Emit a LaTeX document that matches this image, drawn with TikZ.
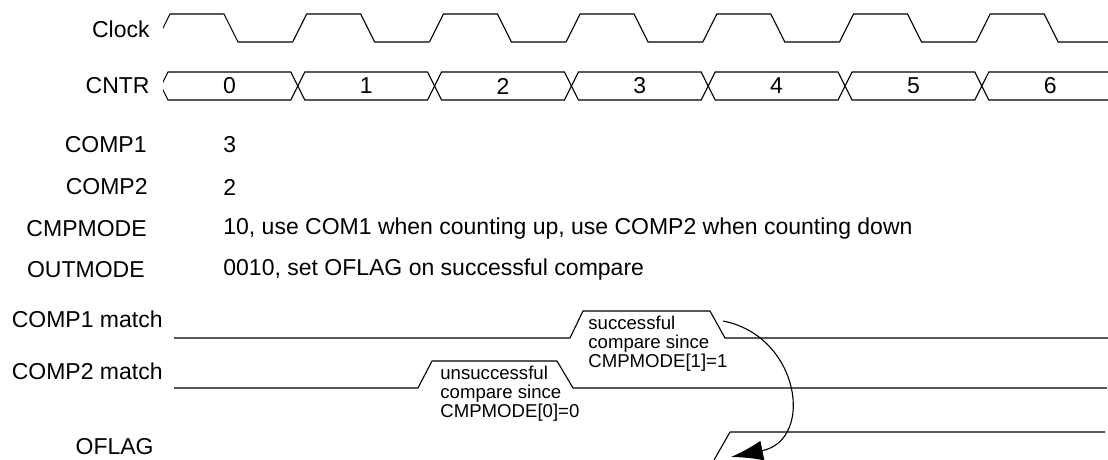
\documentclass[tikz,border=0pt]{standalone}
\usepackage{fontspec}
\setmainfont{Liberation Sans}
\usepackage{xcolor}
\usepackage{tikz}
\usetikzlibrary{
    arrows.meta,
    positioning,
    calc
}
\tikzset{
    sigline/.style={
        draw=black,
        line width=0.55pt,
        line join=miter
    }
}
\tikzset{
    siglabel/.style={
        anchor=east,
        inner sep=0pt,
        font=\fontsize{11.5}{14}\selectfont
    }
}
\tikzset{
    sigvalue/.style={
        anchor=west,
        inner sep=0pt,
        font=\fontsize{11.5}{14}\selectfont
    }
}
\tikzset{
    busvalue/.style={
        inner sep=0pt,
        font=\fontsize{11.5}{14}\selectfont
    }
}
\tikzset{
    notetext/.style={
        anchor=north west,
        inner sep=0pt,
        align=left,
        font=\fontsize{9.3}{9.3}\selectfont
    }
}
\tikzset{
    compareArrow/.style={
        draw=black,
        line width=0.55pt,
        -{Latex[length=16pt,width=10pt]}
    }
}

\begin{document}
\begin{tikzpicture}[
    x=0.5pt,
    y=-0.5pt
]

\useasboundingbox (0,0) rectangle (1108,460);

% ------------------------------------------------------------
% Signal names
% ------------------------------------------------------------

\node[siglabel] (clock) at (150,29) {Clock};
\node[siglabel] (cntr) at (150,86) {CNTR};
\node[siglabel] (comp1) at (147,145) {COMP1};
\node[siglabel] (comp2) at (148,187) {COMP2};
\node[siglabel] (cmpmode) at (147,229) {CMPMODE};
\node[siglabel] (outmode) at (145,270) {OUTMODE};
\node[siglabel] (match1) at (163,319) {COMP1 match};
\node[siglabel] (match2) at (163,371) {COMP2 match};
\node[siglabel] (oflag) at (154,447) {OFLAG};

% ------------------------------------------------------------
% Register settings
% ------------------------------------------------------------

\node[sigvalue] (comp1val) at (223,145) {3};
\node[sigvalue] (comp2val) at (223,187) {2};
\node[sigvalue] (cmpmodeval) at (223,229)
    {10, use COM1 when counting up, use COMP2 when counting down};
\node[sigvalue] (outmodeval) at (223,270)
    {0010, set OFLAG on successful compare};

% ------------------------------------------------------------
% Clock and counter
% ------------------------------------------------------------

\begin{scope}
\clip (163,0) rectangle (1108,110);
\foreach \i in {0,...,6} {
    \pgfmathsetmacro{\r}{156+136.7*\i}
    \draw[sigline] (\r,42) -- ++(14,-28) -- ++(54,0) -- ++(14,28) -- ++(54.7,0);
}
\foreach \i in {0,...,6} {
    \pgfmathsetmacro{\c}{161+136.8*\i}
    \draw[sigline] (\c,86) -- ++(7,-14) -- ++(122.8,0) -- ++(7,14)
        -- ++(-7,14) -- ++(-122.8,0) -- cycle;
    \node[busvalue] (count\i) at (\c+68.4,86) {\i};
}
\end{scope}

% ------------------------------------------------------------
% Compare outputs
% ------------------------------------------------------------

\draw[sigline] (174,338) -- (570,338) -- (583,311) -- (710,311)
    -- (725,338) -- (1108,338);

\draw[sigline] (174,388) -- (418,388) -- (432,361) -- (557,361)
    -- (573,388) -- (1107,388);

\draw[sigline] (714,460) -- (730,432) -- (1105,432);

\node[notetext] (hitnote) at (588,316)
    {successful\\compare since\\CMPMODE[1]=1};

\node[notetext] (missnote) at (440,366)
    {unsuccessful\\compare since\\CMPMODE[0]=0};

% ------------------------------------------------------------
% Match sets OFLAG
% ------------------------------------------------------------

\coordinate (matchfall) at (723,321);
\coordinate (oflagrise) at (731,457);

\draw[compareArrow]
    (matchfall) .. controls (800,336) and (815,440) .. (oflagrise);

\end{tikzpicture}
\end{document}
